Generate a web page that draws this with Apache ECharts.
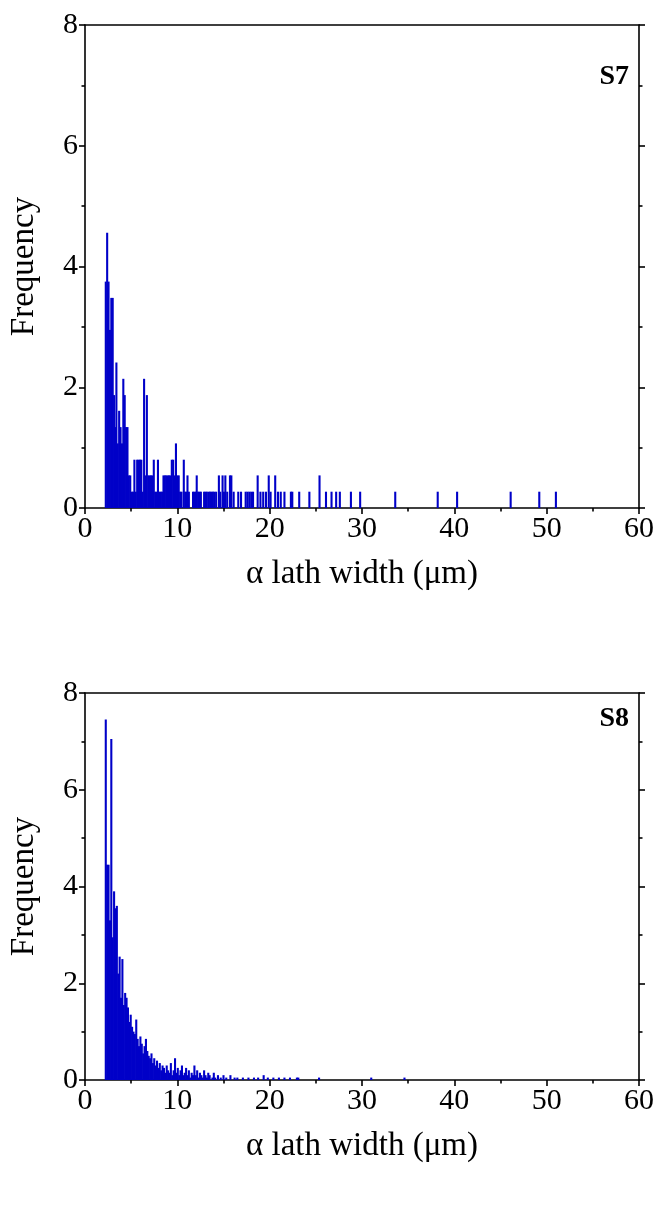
<!DOCTYPE html>
<html><head><meta charset="utf-8">
<script src="https://cdn.jsdelivr.net/npm/echarts@6/dist/echarts.min.js"></script>
<style>html,body{margin:0;padding:0;background:#fff}#c{width:657px;height:1206px}</style>
</head><body><div id="c"></div>
<script>
// Bin width of the histogram (µm)
const binWidth = 0.15;
const xTicks = [0, 10, 20, 30, 40, 50, 60];
const yTicks = [0, 2, 4, 6, 8];
const panelLabels = ['S7', 'S8'];
const xTitle = 'α lath width (μm)';
const yTitle = 'Frequency';

// S7: bin centres (µm) and frequencies
const s7Width = [2.25,2.4,2.55,2.7,2.85,3.0,3.15,3.25,3.4,3.55,3.7,3.85,4.0,4.15,4.3,4.45,4.6,4.75,4.9,5.05,5.2,5.35,5.5,5.65,5.8,5.95,6.1,6.25,6.4,6.55,6.7,6.85,7.0,7.15,7.3,7.45,7.6,7.75,7.9,8.05,8.2,8.35,8.5,8.65,8.8,8.95,9.1,9.25,9.4,9.55,9.7,9.85,10.0,10.15,10.3,10.45,10.7,10.85,11.0,11.1,11.25,11.7,11.85,12.0,12.1,12.25,12.4,12.55,12.9,13.05,13.2,13.4,13.55,13.7,13.85,14.0,14.2,14.5,14.65,14.9,15.05,15.2,15.4,15.7,15.85,16.1,16.6,16.9,17.4,17.6,17.8,18.0,18.2,18.7,19.0,19.3,19.6,19.9,20.1,20.6,20.9,21.2,21.6,22.3,22.45,23.2,24.3,25.4,26.1,26.7,27.2,27.6,28.8,29.8,33.6,38.2,40.3,46.1,49.2,51.0];
const s7Freq = [3.75,4.56,3.75,2.95,3.48,3.48,1.87,1.34,2.41,1.07,1.61,1.34,1.07,2.14,1.87,1.34,1.34,0.54,0.54,0.27,0.27,0.8,0.27,0.8,0.8,0.8,0.8,0.27,2.14,0.54,1.87,0.54,0.54,0.54,0.54,0.8,0.27,0.27,0.8,0.27,0.27,0.27,0.54,0.54,0.54,0.54,0.54,0.54,0.8,0.8,0.54,1.07,0.54,0.54,0.27,0.27,0.8,0.27,0.27,0.54,0.27,0.27,0.27,0.27,0.54,0.27,0.27,0.27,0.27,0.27,0.27,0.27,0.27,0.27,0.27,0.27,0.27,0.54,0.27,0.54,0.27,0.54,0.27,0.54,0.54,0.27,0.27,0.27,0.27,0.27,0.27,0.27,0.27,0.54,0.27,0.27,0.27,0.54,0.27,0.54,0.27,0.27,0.27,0.27,0.27,0.27,0.27,0.54,0.27,0.27,0.27,0.27,0.27,0.27,0.27,0.27,0.27,0.27,0.27,0.27];

// S8: bin centres (µm) and frequencies
const s8Width = [2.25,2.4,2.55,2.7,2.85,3.0,3.15,3.3,3.45,3.6,3.75,3.9,4.05,4.2,4.35,4.5,4.65,4.8,4.95,5.1,5.25,5.4,5.55,5.7,5.85,6.0,6.15,6.3,6.45,6.6,6.75,6.9,7.05,7.2,7.35,7.5,7.65,7.8,7.95,8.1,8.25,8.4,8.55,8.7,8.85,9.0,9.15,9.3,9.45,9.6,9.75,9.9,10.05,10.2,10.35,10.5,10.65,10.8,10.95,11.1,11.25,11.4,11.55,11.7,11.85,12.0,12.15,12.3,12.45,12.6,12.75,12.9,13.05,13.2,13.35,13.5,13.8,13.95,14.1,14.4,14.7,15.0,15.3,15.75,16.2,16.5,17.1,17.7,18.3,18.75,19.35,19.8,20.4,21.0,21.6,22.2,22.95,23.1,25.35,31.0,34.6];
const s8Freq = [7.45,4.45,4.45,3.3,7.05,2.95,3.9,3.55,3.6,2.2,2.55,1.7,2.5,1.55,1.8,1.7,1.5,1.2,1.35,1.1,1.0,0.95,1.25,0.85,0.7,0.9,0.75,0.55,0.7,0.85,0.6,0.5,0.45,0.55,0.35,0.45,0.3,0.4,0.25,0.35,0.2,0.3,0.25,0.15,0.3,0.2,0.15,0.35,0.1,0.2,0.45,0.15,0.25,0.1,0.2,0.3,0.1,0.15,0.25,0.1,0.2,0.05,0.15,0.1,0.3,0.1,0.2,0.05,0.15,0.1,0.05,0.2,0.1,0.05,0.15,0.1,0.05,0.15,0.05,0.1,0.05,0.1,0.05,0.1,0.05,0.05,0.05,0.05,0.05,0.05,0.1,0.05,0.05,0.05,0.05,0.05,0.05,0.05,0.05,0.05,0.05];

const FONT = '"Liberation Serif", "DejaVu Serif", serif';
const BLUE = '#0000c8';
const chart = echarts.init(document.getElementById('c'), null, {renderer: 'canvas'});

const grids = [
  {left: 85, top: 25, width: 555, height: 483},
  {left: 85, top: 693, width: 555, height: 387}
];

function xAxes(gi) {
  return [
    {type: 'value', gridIndex: gi, position: 'bottom', min: 0, max: 60, interval: 10,
     name: xTitle, nameLocation: 'middle', nameGap: 50,
     nameTextStyle: {fontFamily: FONT, fontSize: 33, color: '#000'},
     axisLine: {onZero: false, lineStyle: {color: '#000', width: 1.6}},
     axisTick: {show: true, inside: false, length: 6, lineStyle: {color: '#000', width: 1.6}},
     minorTick: {show: true, splitNumber: 2, length: 3.5, lineStyle: {color: '#000', width: 1.6}},
     axisLabel: {fontFamily: FONT, fontSize: 30, color: '#000', margin: 6},
     splitLine: {show: false}},
    {type: 'value', gridIndex: gi, position: 'top', min: 0, max: 60, interval: 10,
     axisLine: {onZero: false, lineStyle: {color: '#000', width: 1.6}},
     axisTick: {show: false}, axisLabel: {show: false}, splitLine: {show: false}}
  ];
}
function yAxes(gi) {
  return [
    {type: 'value', gridIndex: gi, position: 'left', min: 0, max: 8, interval: 2,
     name: yTitle, nameLocation: 'middle', nameGap: 44, nameRotate: 90,
     nameTextStyle: {fontFamily: FONT, fontSize: 33, color: '#000'},
     axisLine: {show: true, onZero: false, lineStyle: {color: '#000', width: 1.6}},
     axisTick: {show: true, inside: false, length: 6, lineStyle: {color: '#000', width: 1.6}},
     minorTick: {show: true, splitNumber: 2, length: 3.5, lineStyle: {color: '#000', width: 1.6}},
     axisLabel: {fontFamily: FONT, fontSize: 30, color: '#000', margin: 7},
     splitLine: {show: false}},
    {type: 'value', gridIndex: gi, position: 'right', min: 0, max: 8, interval: 2,
     axisLine: {show: true, onZero: false, lineStyle: {color: '#000', width: 1.6}},
     axisTick: {show: true, inside: false, length: 6, lineStyle: {color: '#000', width: 1.6}},
     minorTick: {show: true, splitNumber: 2, length: 3.5, lineStyle: {color: '#000', width: 1.6}},
     axisLabel: {show: false}, splitLine: {show: false}}
  ];
}

function histSeries(xi, yi, centres, freqs) {
  return {
    type: 'custom', xAxisIndex: xi, yAxisIndex: yi, clip: true,
    data: centres.map((c, i) => [c, freqs[i]]),
    encode: {x: 0, y: 1},
    renderItem: function (params, api) {
      const c = api.value(0), f = api.value(1);
      const p0 = api.coord([c - binWidth / 2, f]);
      const p1 = api.coord([c + binWidth / 2, 0]);
      const w = Math.max(p1[0] - p0[0] + 0.7, 1.9);
      return {type: 'rect', shape: {x: p0[0] - 0.35, y: p0[1], width: w, height: p1[1] - p0[1]},
              style: {fill: BLUE}};
    }
  };
}

chart.setOption({
  backgroundColor: '#fff',
  animation: false,
  grid: grids,
  xAxis: [...xAxes(0), ...xAxes(1)],
  yAxis: [...yAxes(0), ...yAxes(1)],
  series: [histSeries(0, 0, s7Width, s7Freq), histSeries(2, 2, s8Width, s8Freq)],
  graphic: [
    {type: 'text', right: 28, top: 63, style: {text: panelLabels[0], font: 'bold 28px ' + FONT, fill: '#000'}},
    {type: 'text', right: 28, top: 705, style: {text: panelLabels[1], font: 'bold 28px ' + FONT, fill: '#000'}}
  ]
});
</script>
</body></html>
